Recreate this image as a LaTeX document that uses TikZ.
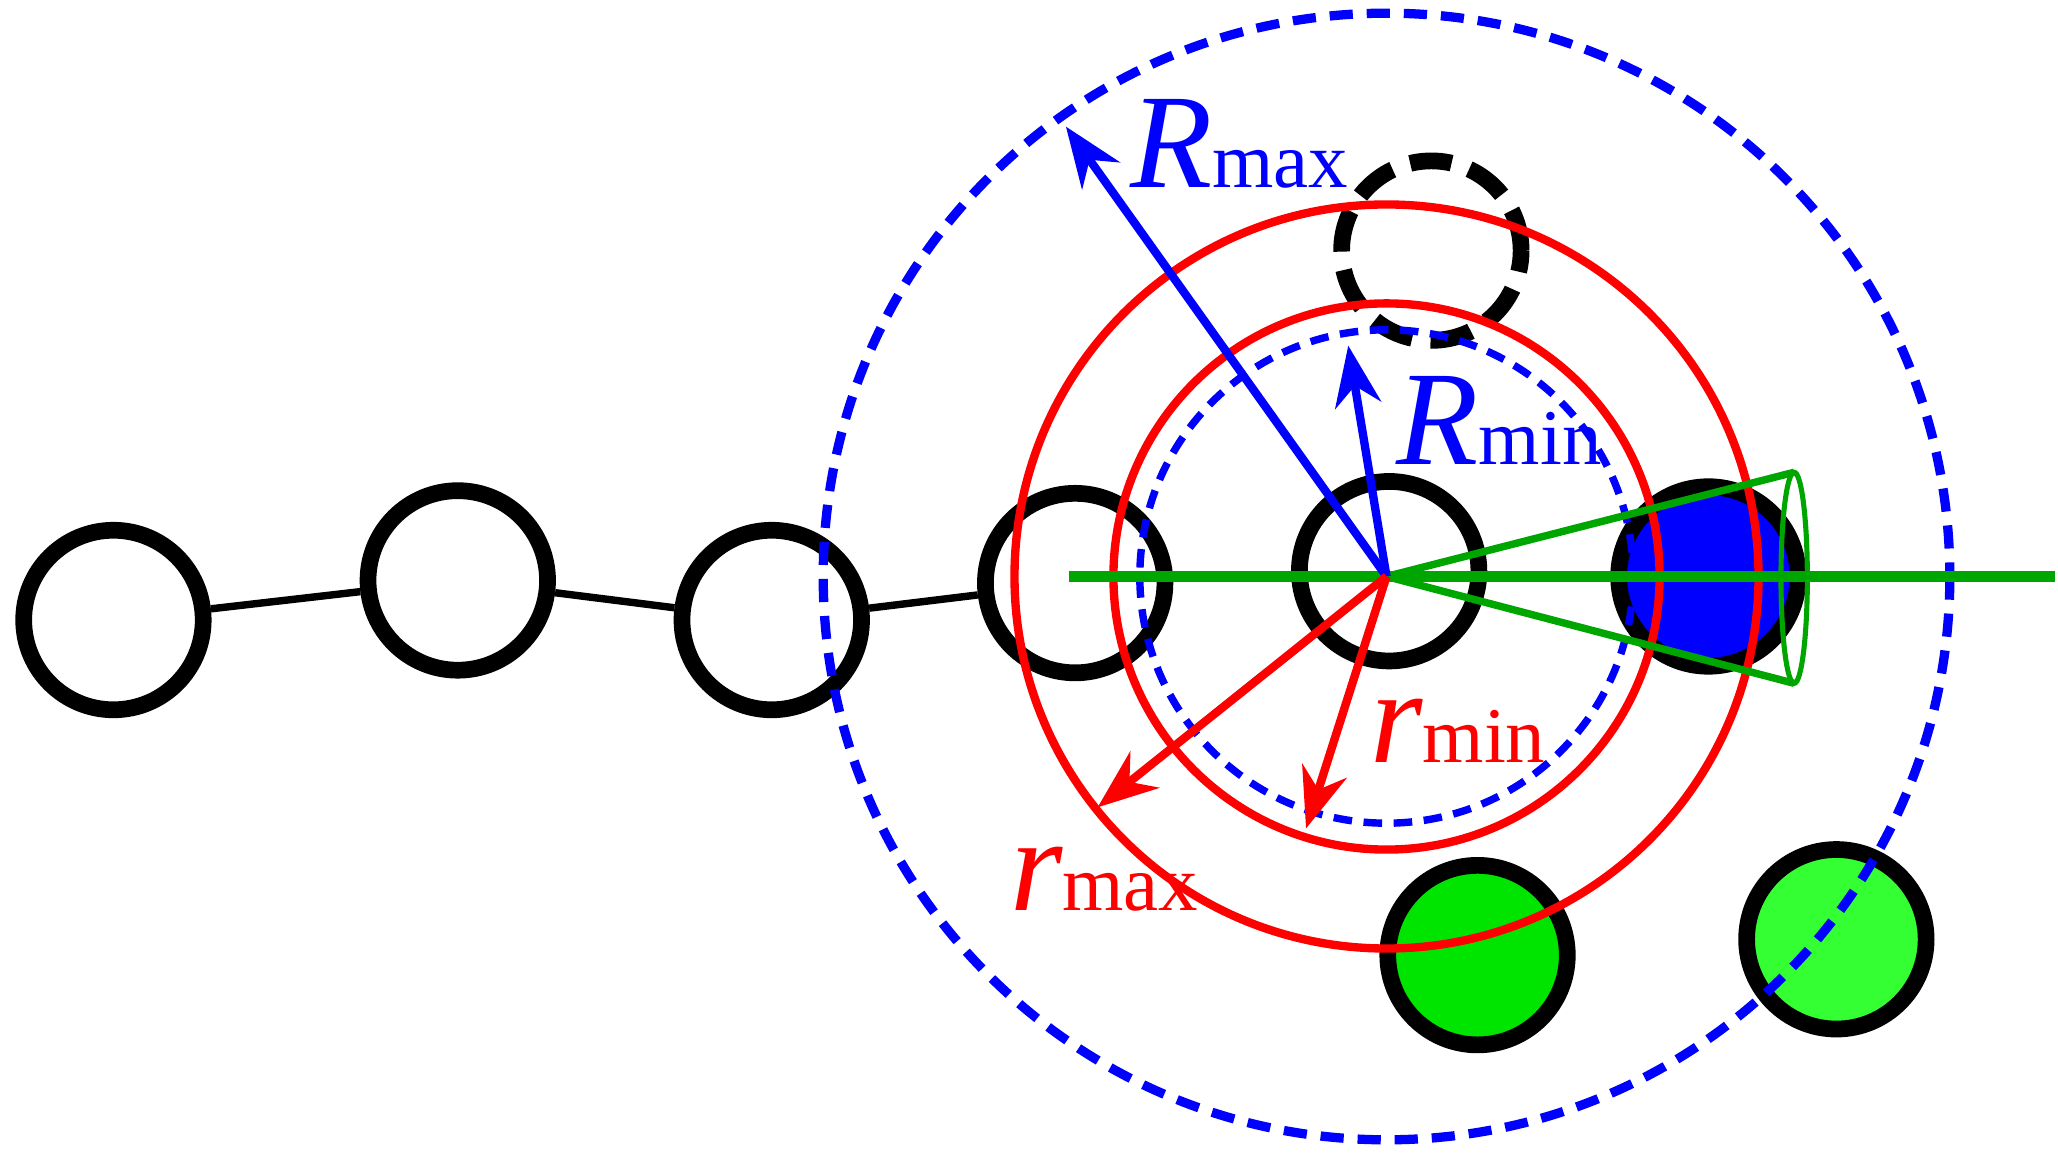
\documentclass[tikz,border=0pt]{standalone}
\usepackage{fontspec}
\setmainfont{Liberation Serif}
\usetikzlibrary{arrows.meta}
\begin{document}
\begin{tikzpicture}[x=0.01cm,y=-0.01cm,
  bead/.style={circle,draw=black,line width=3.6pt,minimum size=1.36cm,inner sep=0pt},
  bluedash/.style={draw=blue,line width=2pt,dash pattern=on 5pt off 3pt},
  redc/.style={draw=red,line width=1.8pt},
  arr/.style={line width=1.8pt,-{Stealth[length=13pt,width=10pt]}},
  lab/.style={inner sep=0pt}]
\useasboundingbox (0,0) rectangle (1560,877);
\coordinate (C) at (1051,437);
% chain
\node[bead] (b1) at (86,470) {};
\node[bead] (b2) at (347,440) {};
\node[bead] (b3) at (585,470) {};
\node[bead] (b4) at (815,442) {};
\node[bead] (b5) at (1053,433) {};
\draw[line width=1.6pt] (b1)--(b2) (b2)--(b3) (b3)--(b4);
\node[bead,fill=blue] (bb) at (1295,437) {};
\node[bead,dash pattern=on 9pt off 4pt] (bd) at (1085,190) {};
\node[bead,fill=green!90!black] (g1) at (1120,724) {};
\node[bead,fill=green!80!white] (g2) at (1392,712) {};
% big circles
\draw[bluedash] (C) circle (427);
\draw[redc] (C) circle (282);
\draw[redc] (C) circle (207);
\draw[bluedash,line width=1.6pt,dash pattern=on 4pt off 2.5pt] (C) circle (187);
% green
\coordinate (L) at (810,437);
\coordinate (Rr) at (1558,437);
\coordinate (T) at (1360,358);
\coordinate (B) at (1360,518);
\draw[green!65!black,line width=2.2pt] (L)--(Rr);
\draw[green!65!black,line width=1.6pt] (T)--(C)--(B);
\draw[green!65!black,line width=1.1pt] (1360,438) ellipse (10 and 80);
% arrows
\coordinate (Rmx) at (808,96);
\coordinate (Rmn) at (1022,262);
\coordinate (rmx) at (832,612);
\coordinate (rmn) at (990,628);
\draw[arr,blue] (C)--(Rmx);
\draw[arr,blue] (C)--(Rmn);
\draw[arr,red] (C)--(rmx);
\draw[arr,red] (C)--(rmn);
\node[lab,blue,anchor=base west] (lRmx) at (856,142) {\fontsize{29}{29}\selectfont\itshape R\fontsize{17}{17}\selectfont\upshape max};
\node[lab,blue,anchor=base west] (lRmn) at (1058,352) {\fontsize{29}{29}\selectfont\itshape R\fontsize{17}{17}\selectfont\upshape min};
\node[lab,red,anchor=base west] (lrmn) at (1038,578) {\fontsize{29}{29}\selectfont\itshape r\fontsize{17}{17}\selectfont\upshape min};
\node[lab,red,anchor=base west] (lrmx) at (765,690) {\fontsize{29}{29}\selectfont\itshape r\fontsize{17}{17}\selectfont\upshape max};
\end{tikzpicture}
\end{document}
